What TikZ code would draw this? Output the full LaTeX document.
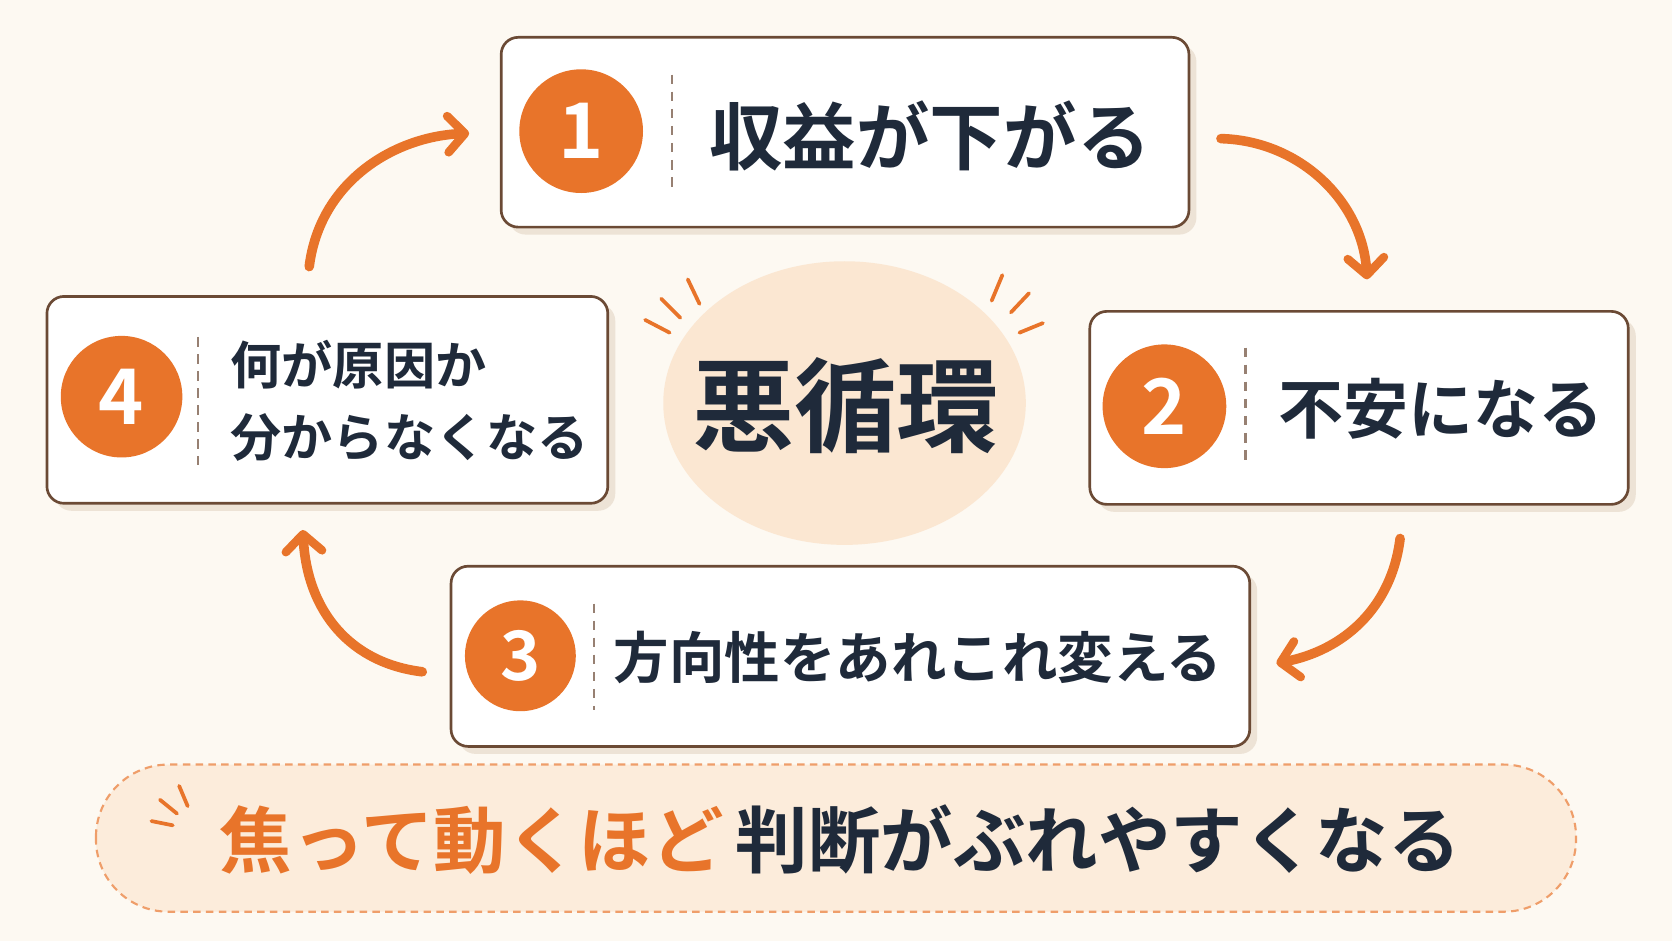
\documentclass[tikz,border=0pt]{standalone}
\usepackage{fontspec}
\newfontfamily\cjk{Noto Sans CJK JP}[BoldFont={Noto Sans CJK JP Bold}]
\usetikzlibrary{arrows.meta,shapes.geometric}
\definecolor{bg}{HTML}{FDF9F2}
\definecolor{org}{HTML}{E8742A}
\definecolor{navy}{HTML}{1F2A3A}
\definecolor{brn}{HTML}{6B4A35}
\definecolor{peach}{HTML}{FBE7D2}
\definecolor{shd}{HTML}{EDE3D6}
\begin{document}
\begin{tikzpicture}[x=1pt,y=-1pt,
 box/.style={draw=brn,line width=2.5pt,rounded corners=16pt,fill=white},
 num/.style={circle,fill=org,text=white,font=\cjk\bfseries\fontsize{72}{72}\selectfont,inner sep=0pt},
 divd/.style={draw=brn!70,line width=2pt,dash pattern=on 9pt off 7pt},
 lbl/.style={text=navy,font=\cjk\bfseries\fontsize{56}{60}\selectfont,inner sep=0pt},
 arr/.style={draw=org,line width=9pt,line cap=round,-{Straight Barb[length=16pt,width=34pt,line width=8pt,round]}},
 ray/.style={draw=org,line width=3.5pt,line cap=round}]
\fill[bg] (0,0) rectangle (1568,882);
\useasboundingbox (0,0) rectangle (1568,882);
% center
\node[ellipse,fill=peach,minimum width=340pt,minimum height=266pt,inner sep=0pt] (c) at (792,378) {};
\node[lbl,font=\cjk\bfseries\fontsize{96}{96}\selectfont] (ct) at (793,380) {悪循環};
\draw[ray] (605,300)--(628,312); \draw[ray] (620,280)--(638,298); \draw[ray] (645,262)--(656,285);
\draw[ray] (940,258)--(930,282); \draw[ray] (965,275)--(948,293); \draw[ray] (978,303)--(956,312);
% shadows
\foreach \a/\b/\c/\d in {470/35/1115/213,1022/292/1527/473,423/531/1172/700,44/278/570/472}
 \fill[shd,rounded corners=16pt] (\a+7,\b+7) rectangle (\c+7,\d+7);
% box1
\draw[box] (470,35) rectangle (1115,213);
\node[num,minimum size=116pt] (n1) at (545,123) {1};
\coordinate (d1a) at (630,70); \coordinate (d1b) at (630,178); \draw[divd] (d1a)--(d1b);
\node[lbl,font=\cjk\bfseries\fontsize{69}{69}\selectfont] (t1) at (872,127) {収益が下がる};
% box2
\draw[box] (1022,292) rectangle (1527,473);
\node[num,minimum size=116pt] (n2) at (1092,381) {2};
\coordinate (d2a) at (1168,326); \coordinate (d2b) at (1168,436); \draw[divd] (d2a)--(d2b);
\node[lbl,font=\cjk\bfseries\fontsize{61}{61}\selectfont] (t2) at (1351,383) {不安になる};
% box3
\draw[box] (423,531) rectangle (1172,700);
\node[num,minimum size=104pt,font=\cjk\bfseries\fontsize{64}{64}\selectfont] (n3) at (488,615) {3};
\coordinate (d3a) at (557,566); \coordinate (d3b) at (557,666); \draw[divd] (d3a)--(d3b);
\node[lbl,font=\cjk\bfseries\fontsize{52}{52}\selectfont] (t3) at (861,617) {方向性をあれこれ変える};
% box4
\draw[box] (44,278) rectangle (570,472);
\node[num,minimum size=114pt] (n4) at (114,372) {4};
\coordinate (d4a) at (186,316); \coordinate (d4b) at (186,436); \draw[divd] (d4a)--(d4b);
\node[lbl,anchor=west,align=left,font=\cjk\bfseries\fontsize{48}{67}\selectfont] (t4) at (216,376) {何が原因か\\分からなくなる};
% arrows
\coordinate (a1s) at (290,250); \coordinate (a1e) at (440,125);
\draw[arr] (a1s) .. controls (300,170) and (370,128) .. (a1e);
\coordinate (a2s) at (1145,130); \coordinate (a2e) at (1282,262);
\draw[arr] (a2s) .. controls (1220,132) and (1278,190) .. (a2e);
\coordinate (a3s) at (1313,505); \coordinate (a3e) at (1197,622);
\draw[arr] (a3s) .. controls (1305,570) and (1260,610) .. (a3e);
\coordinate (a4s) at (396,630); \coordinate (a4e) at (284,497);
\draw[arr] (a4s) .. controls (330,622) and (288,575) .. (a4e);
% bottom pill
\draw[fill=peach!80,draw=org!70,line width=2pt,dash pattern=on 7pt off 5pt,rounded corners=68pt] (90,717) rectangle (1478,855);
\draw[ray] (142,770)--(162,774); \draw[ray] (150,750)--(166,763); \draw[ray] (168,737)--(176,756);
\node[inner sep=0pt,font=\cjk\bfseries\fontsize{68}{68}\selectfont] (bt) at (788,787) {\textcolor{org}{焦って動くほど}\,\textcolor{navy}{判断がぶれやすくなる}};
\end{tikzpicture}
\end{document}
